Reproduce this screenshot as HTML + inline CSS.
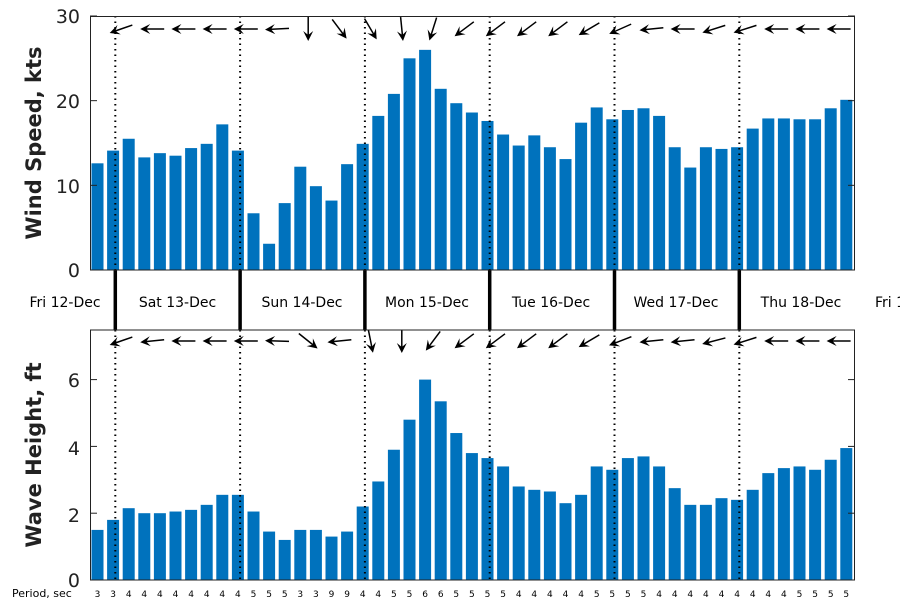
<!DOCTYPE html>
<html><head><meta charset="utf-8"><style>
body{margin:0;background:#fff;width:900px;height:600px;overflow:hidden}
text{font-family:"DejaVu Sans","Liberation Sans",sans-serif}
</style></head><body>
<svg id="s" width="900" height="600" xmlns="http://www.w3.org/2000/svg">
<text x="0" y="0" transform="translate(41,143) rotate(-90)" text-anchor="middle" font-size="21" font-weight="bold" fill="#222">Wind Speed, kts</text>
<text x="0" y="0" transform="translate(41,455) rotate(-90)" text-anchor="middle" font-size="21" font-weight="bold" fill="#222">Wave Height, ft</text>
<text x="80" y="277" text-anchor="end" font-size="19" fill="#222">0</text>
<text x="80" y="193" text-anchor="end" font-size="19" fill="#222">10</text>
<text x="80" y="108" text-anchor="end" font-size="19" fill="#222">20</text>
<text x="80" y="23" text-anchor="end" font-size="19" fill="#222">30</text>
<text x="80" y="587" text-anchor="end" font-size="19" fill="#222">0</text>
<text x="80" y="522" text-anchor="end" font-size="19" fill="#222">2</text>
<text x="80" y="455" text-anchor="end" font-size="19" fill="#222">4</text>
<text x="80" y="387" text-anchor="end" font-size="19" fill="#222">6</text>
<text x="12" y="597" font-size="11" fill="#000">Period, sec</text>
<text x="65" y="307" text-anchor="middle" font-size="14" fill="#000">Fri 12-Dec</text>
<text x="177.5" y="307" text-anchor="middle" font-size="14" fill="#000">Sat 13-Dec</text>
<text x="302" y="307" text-anchor="middle" font-size="14" fill="#000">Sun 14-Dec</text>
<text x="427" y="307" text-anchor="middle" font-size="14" fill="#000">Mon 15-Dec</text>
<text x="551" y="307" text-anchor="middle" font-size="14" fill="#000">Tue 16-Dec</text>
<text x="676" y="307" text-anchor="middle" font-size="14" fill="#000">Wed 17-Dec</text>
<text x="801" y="307" text-anchor="middle" font-size="14" fill="#000">Thu 18-Dec</text>
<text x="875" y="307" font-size="14" fill="#000">Fri 19-Dec</text>
<g id="g"></g>
</svg>
<script>
var w=[12.6,14.1,15.5,13.3,13.8,13.5,14.4,14.9,17.2,14.1,6.7,3.1,7.9,12.2,9.9,8.2,12.5,14.9,18.2,20.8,25,26,21.4,19.7,18.6,17.6,16,14.7,15.9,14.5,13.1,17.4,19.2,17.8,18.9,19.1,18.2,14.5,12.1,14.5,14.3,14.5,16.7,17.9,17.9,17.8,17.8,19.1,20.1];
var h=[1.5,1.8,2.15,2.0,2.0,2.05,2.1,2.25,2.55,2.55,2.05,1.45,1.2,1.5,1.5,1.3,1.45,2.2,2.95,3.9,4.8,6.0,5.35,4.4,3.8,3.65,3.4,2.8,2.7,2.65,2.3,2.55,3.4,3.3,3.65,3.7,3.4,2.75,2.25,2.25,2.45,2.4,2.7,3.2,3.35,3.4,3.3,3.6,3.95];
var p="3 3 4 4 4 4 4 4 4 4 5 5 5 3 3 9 9 4 4 5 5 6 6 5 5 5 5 4 4 4 4 4 5 5 5 5 4 4 4 4 4 4 4 4 4 5 5 5 5".split(" ");
var ta=[[-1,.35],[-1,0],[-1,0],[-1,0],[-1,0],[-1,.05],[0,1],[.6,.8],[.5,.85],[.1,1],[-.3,.95],[-.8,.6],[-.8,.6],[-.8,.6],[-.8,.6],[-.85,.5],[-.9,.4],[-1,.1],[-1,0],[-.95,.3],[-.95,.3],[-1,0],[-1,0],[-1,0],[-1,0]];
var ba=[[-1,.35],[-1,.1],[-1,0],[-1,0],[-1,0],[-1,-.03],[.75,.6],[-1,.1],[.2,1],[0,1],[-.6,.8],[-.8,.6],[-.8,.6],[-.8,.6],[-.8,.6],[-.85,.5],[-.9,.35],[-1,.1],[-1,.1],[-.95,.25],[-.95,.3],[-1,0],[-1,0],[-1,0],[-1,0]];
var s="";
for(var i=0;i<49;i++){var c=97.5+15.6*i;
 var y=270-w[i]*8.467; s+='<rect x="'+(c-6)+'" y="'+y+'" width="12" height="'+(270-y)+'" fill="#0072BD"/>';
 y=580-h[i]*33.4; s+='<rect x="'+(c-6)+'" y="'+y+'" width="12" height="'+(580-y)+'" fill="#0072BD"/>';
 s+='<text x="'+c+'" y="597" text-anchor="middle" font-size="9" fill="#000">'+p[i]+'</text>';}
for(var d=0;d<6;d++){var x=115.3+124.8*d;
 s+='<line x1="'+x+'" y1="16" x2="'+x+'" y2="270" stroke="#000" stroke-width="2" stroke-dasharray="1.5,4"/>';
 s+='<line x1="'+x+'" y1="330" x2="'+x+'" y2="580" stroke="#000" stroke-width="2" stroke-dasharray="1.5,4"/>';
 s+='<line x1="'+x+'" y1="270" x2="'+x+'" y2="330" stroke="#000" stroke-width="3.5"/>';}
function arr(cx,cy,dx,dy){var n=Math.hypot(dx,dy);dx/=n;dy/=n;var L=12;
 var tx=cx+dx*L,ty=cy+dy*L,bx=cx-dx*L,by=cy-dy*L;
 var hx=tx-dx*10,hy=ty-dy*10,px=-dy*5,py=dx*5;
 return '<line x1="'+bx+'" y1="'+by+'" x2="'+(tx-dx*4)+'" y2="'+(ty-dy*4)+'" stroke="#000" stroke-width="1.5"/>'+
 '<polygon points="'+tx+','+ty+' '+(hx+px)+','+(hy+py)+' '+(tx-dx*6)+','+(ty-dy*6)+' '+(hx-px)+','+(hy-py)+'" fill="#000"/>';}
s+='<clipPath id="c1"><rect x="90" y="16" width="765" height="254"/></clipPath><clipPath id="c2"><rect x="90" y="330" width="765" height="250"/></clipPath><g clip-path="url(#c1)">';
for(var k=0;k<25;k++)s+=arr(121+31.2*k,29,ta[k][0],ta[k][1]);
s+='</g><g clip-path="url(#c2)">';
for(var k=0;k<25;k++)s+=arr(121+31.2*k,341,ba[k][0],ba[k][1]);
s+='</g>';
s+='<rect x="90.5" y="16.5" width="764" height="253.5" fill="none" stroke="#222" stroke-width="1"/>';
s+='<rect x="90.5" y="330" width="764" height="250" fill="none" stroke="#222" stroke-width="1"/>';
[0,10,20,30].forEach(function(v){var y=270-v*8.467;s+='<line x1="90" y1="'+y+'" x2="97" y2="'+y+'" stroke="#222"/><line x1="848" y1="'+y+'" x2="855" y2="'+y+'" stroke="#222"/>';});
[0,2,4,6].forEach(function(v){var y=580-v*33.4;s+='<line x1="90" y1="'+y+'" x2="97" y2="'+y+'" stroke="#222"/><line x1="848" y1="'+y+'" x2="855" y2="'+y+'" stroke="#222"/>';});
document.getElementById("g").innerHTML=s;
</script>
</body></html>
